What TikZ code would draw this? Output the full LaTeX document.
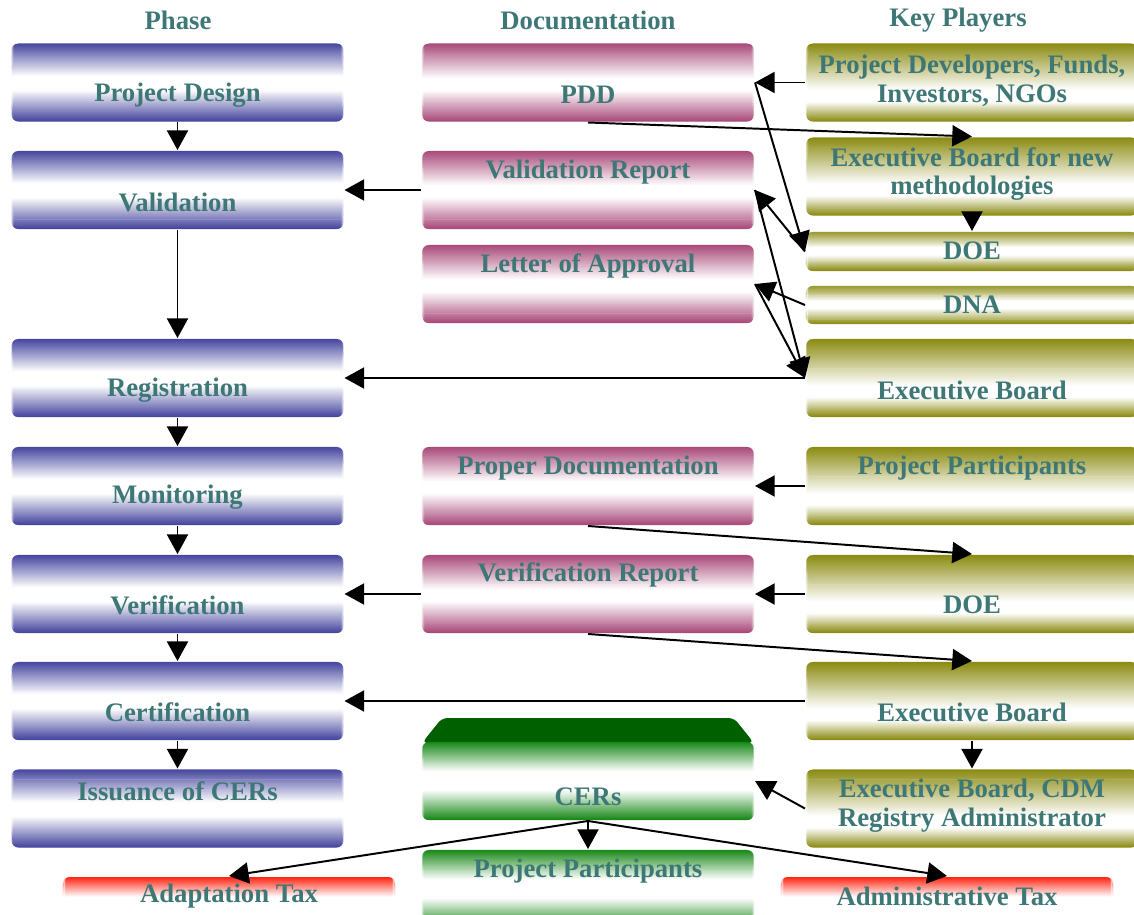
\documentclass[tikz,border=0pt]{standalone}
\usepackage{fontspec}
\setmainfont{Liberation Serif}
\usetikzlibrary{arrows.meta,calc}

\definecolor{phaseblue}{RGB}{68,68,158}
\definecolor{docrose}{RGB}{168,72,120}
\definecolor{playerolive}{RGB}{138,138,16}
\definecolor{cergreen}{RGB}{22,135,22}
\definecolor{cerdark}{RGB}{0,96,0}
\definecolor{taxred}{RGB}{255,32,12}
\definecolor{txtteal}{RGB}{62,120,118}

% colour band: #1 colour, white from #2 to #3 (fractions from the top)
\tikzset{band/.style n args={3}{path picture={
	\foreach \i in {0,...,79}{
		\pgfmathsetmacro\t{(\i+0.5)/80}
		\pgfmathsetmacro\w{100*min(1,\t/#2,(1-\t)/(1-#3))}
		\pgfmathsetmacro\ra{\i/80}
		\pgfmathsetmacro\rb{(\i+1.5)/80}
		\fill[white!\w!#1] ($(path picture bounding box.north west)!\ra!(path picture bounding box.south west)+(-4,0)$) rectangle ($(path picture bounding box.north east)!\rb!(path picture bounding box.south east)+(4,0)$);
	}}}}

\begin{document}
\begin{tikzpicture}[x=0.025cm,y=-0.025cm,
	box/.style={rounded corners=5pt, minimum width=8.3cm, minimum height=1.95cm, inner sep=0pt},
	phase/.style={box, band={phaseblue}{0.42}{0.6}},
	doc/.style={box, band={docrose}{0.45}{0.6}},
	player/.style={box, band={playerolive}{0.6}{0.75}},
	thin/.style={box, band={playerolive}{0.4}{0.6}},
	cer/.style={box, band={cergreen}{0.38}{0.62}},
	tax/.style={box, band={taxred}{0.5}{0.999}, minimum height=1cm},
	txt/.style={text=txtteal, font=\fontsize{19}{20.5}\selectfont\bfseries, align=center, inner sep=0pt},
	>={Triangle[length=14pt,width=15pt]}, line width=1.4pt]
	\clip (0,0) rectangle (1134,915);
	% headings
	\draw (178,20) node[txt](hphase) {Phase};
	\draw (588,20) node[txt](hdoc) {Documentation};
	\draw (958,20) node[txt](hplay) {Key Players};
	% phase column
	\draw (177.5,82.5) node[phase](pd) {};
	\draw (177.5,190) node[phase](val) {};
	\draw (177.5,378) node[phase](reg) {};
	\draw (177.5,486) node[phase](mon) {};
	\draw (177.5,594) node[phase](ver) {};
	\draw (177.5,701) node[phase](cer) {};
	\draw (177.5,808.5) node[phase](iss) {};
	\draw (177.5,95) node[txt](pdT) {Project Design};
	\draw (177.5,202) node[txt](valT) {Validation};
	\draw (177.5,390) node[txt](regT) {Registration};
	\draw (177.5,497) node[txt](monT) {Monitoring};
	\draw (177.5,605) node[txt](verT) {Verification};
	\draw (177.5,712) node[txt](cerT) {Certification};
	\draw (177.5,791) node[txt](issT) {Issuance of CERs};
	% documentation column
	\draw (588,82.5) node[doc](pdd) {};
	\draw (588,190) node[doc](vrep) {};
	\draw (588,284) node[doc](loa) {};
	\draw (588,486) node[doc](pdoc) {};
	\draw (588,594) node[doc](verrep) {};
	\fill[cerdark, rounded corners=4pt] (422,743) -- (442,718) -- (734,718) -- (754,743) -- cycle;
	\draw (588,781) node[cer](cers) {};
	\draw (588,889) node[cer](pp) {};
	\draw (588,95) node[txt](pddT) {PDD};
	\draw (588,172) node[txt](vrepT) {Validation Report};
	\draw (588,266) node[txt](loaT) {Letter of Approval};
	\draw (588,468) node[txt](pdocT) {Proper Documentation};
	\draw (588,575) node[txt](verrepT) {Verification Report};
	\draw (588,797) node[txt](cersT) {CERs};
	\draw (588,871) node[txt](ppT) {Project Participants};
	% key players column
	\draw (972,82.5) node[player](dev) {};
	\draw (972,176.5) node[player](ebm) {};
	\draw (972,251.5) node[thin, minimum height=0.975cm](doeA) {};
	\draw (972,305) node[thin, minimum height=0.95cm](dna) {};
	\draw (972,378) node[player](ebA) {};
	\draw (972,486) node[player](ppk) {};
	\draw (972,594) node[player](doeB) {};
	\draw (972,701) node[player](ebB) {};
	\draw (972,808.5) node[player](ebcdm) {};
	\draw (972,80.5) node[txt](devT) {Project Developers, Funds,\\Investors, NGOs};
	\draw (972,174) node[txt](ebmT) {Executive Board for new\\methodologies};
	\draw (972,251) node[txt](doeAT) {DOE};
	\draw (972,305) node[txt](dnaT) {DNA};
	\draw (972,390) node[txt](ebAT) {Executive Board};
	\draw (972,468) node[txt](ppkT) {Project Participants};
	\draw (972,605) node[txt](doeBT) {DOE};
	\draw (972,712) node[txt](ebBT) {Executive Board};
	\draw (972,805.5) node[txt](ebcdmT) {Executive Board, CDM\\Registry Administrator};
	% taxes
	\draw (229,897) node[tax](atax) {};
	\draw (947,897) node[tax](adtax) {};
	\draw (229,896) node[txt](ataxT) {Adaptation Tax};
	\draw (947,896) node[txt](adtaxT) {Administrative Tax};
	% phase flow
	\draw[->] (pd.south) -- (val.north);
	\draw[->] (val.south) -- (reg.north);
	\draw[->] (reg.south) -- (mon.north);
	\draw[->] (mon.south) -- (ver.north);
	\draw[->] (ver.south) -- (cer.north);
	\draw[->] (cer.south) -- (iss.north);
	% documents and players
	\draw[->] (dev.west) -- (pdd.east);
	\draw[->] (pdd.south) -- (ebm.north);
	\draw[->] (ebm.south) -- (doeA.north);
	\draw[->] (pdd.east) -- (doeA.west);
	\draw[->] (doeA.west) -- (vrep.east);
	\draw[->] (vrep.east) -- (ebA.west);
	\draw[->] (dna.west) -- (loa.east);
	\draw[->] (loa.east) -- (ebA.west);
	\draw[->] (vrep.west) -- (val.east);
	\draw[->] (ebA.west) -- (reg.east);
	\draw[->] (ppk.west) -- (pdoc.east);
	\draw[->] (pdoc.south) -- (doeB.north);
	\draw[->] (doeB.west) -- (verrep.east);
	\draw[->] (verrep.west) -- (ver.east);
	\draw[->] (verrep.south) -- (ebB.north);
	\draw[->] (ebB.west) -- (cer.east);
	\draw[->] (ebB.south) -- (ebcdm.north);
	\draw[->] (ebcdm.west) -- (cers.east);
	\draw[->] (cers.south) -- (pp.north);
	\draw[->] (cers.south) -- (atax.north);
	\draw[->] (cers.south) -- (adtax.north);
\end{tikzpicture}
\end{document}
